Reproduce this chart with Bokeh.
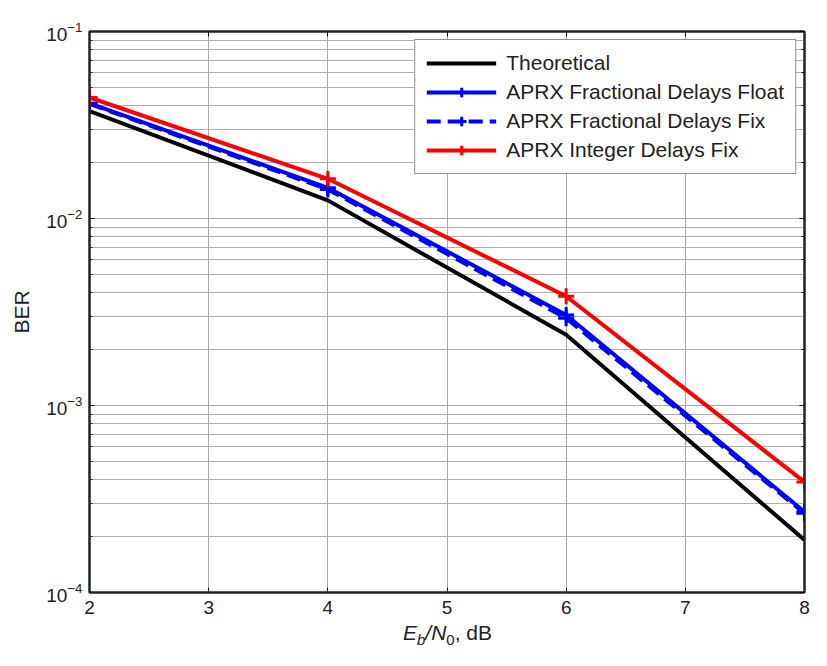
import numpy as np
from bokeh.plotting import figure
from bokeh.models import (LogAxis, LinearAxis, CustomJSTickFormatter,
                          Range1d, FixedTicker, Legend, Div)
from bokeh.layouts import column
from bokeh.embed import file_html
from bokeh.resources import INLINE

# ---- data ----
ebn0 = [2, 4, 6, 8]
ber_theoretical = [0.0375, 0.0125, 0.00239, 0.000191]
ber_frac_float = [0.0413, 0.0146, 0.00305, 0.000270]
ber_frac_fix = [0.0410, 0.0143, 0.00293, 0.000265]
ber_int_fix = [0.0444, 0.0163, 0.00384, 0.000390]
x_ticks = [2, 3, 4, 5, 6, 7, 8]

FONT = "Liberation Sans"
W = 811
DIV_H = 28
H = 650 - DIV_H
BL, BR, BT, BB = 89, 7, 31, 30

p = figure(width=W, height=H, y_axis_type="log",
           x_range=Range1d(2, 8), y_range=Range1d(1e-4, 1e-1),
           output_backend="svg", toolbar_location=None,
           min_border_left=BL, min_border_right=BR,
           min_border_top=BT, min_border_bottom=BB)
p.outline_line_color = "#222222"
p.outline_line_width = 2
p.background_fill_color = "white"
p.border_fill_color = "white"

# grids
p.xgrid.ticker = FixedTicker(ticks=x_ticks)
p.xgrid.grid_line_color = "#a8a8a8"
p.ygrid.grid_line_color = "#a8a8a8"
p.ygrid.minor_grid_line_color = "#b0b0b0"

# axes
for ax in (p.xaxis, p.yaxis):
    ax.axis_line_color = "#222222"
    ax.axis_line_width = 2
    ax.major_tick_in = 5
    ax.major_tick_out = 0
    ax.minor_tick_in = 3
    ax.minor_tick_out = 0
    ax.major_tick_line_color = "#222222"
    ax.minor_tick_line_color = "#222222"
    ax.major_label_text_font = FONT
    ax.major_label_text_font_size = "19px"
    ax.major_label_text_color = "#222222"
p.xaxis.ticker = FixedTicker(ticks=x_ticks)
p.xaxis.major_label_standoff = 8
p.yaxis.major_label_standoff = 7
p.yaxis.axis_label = "BER"
p.yaxis.axis_label_text_font = FONT
p.yaxis.axis_label_text_font_style = "normal"
p.yaxis.axis_label_text_font_size = "21px"
p.yaxis.axis_label_text_color = "#222222"
p.yaxis.axis_label_standoff = 10

blank = CustomJSTickFormatter(code="return ''")
ra = LogAxis(formatter=blank, major_tick_in=5, major_tick_out=0,
             minor_tick_in=3, minor_tick_out=0, axis_line_color="#222222",
             axis_line_width=2, major_label_text_font_size="1px",
             major_label_standoff=0)
p.add_layout(ra, "right")
ta = LinearAxis(formatter=blank, ticker=FixedTicker(ticks=x_ticks),
                major_tick_in=5, major_tick_out=0,
                minor_tick_in=0, minor_tick_out=0, axis_line_color="#222222",
                axis_line_width=2, major_label_text_font_size="1px",
                major_label_standoff=0)
p.add_layout(ta, "above")

# series
r1 = p.line(ebn0, ber_theoretical, line_color="black", line_width=4)
r2 = p.line(ebn0, ber_frac_float, line_color="#0000ff", line_width=4)
r2m = p.scatter(ebn0, ber_frac_float, marker="cross", size=16, line_color="#0000ff", line_width=3)
r3 = p.line(ebn0, ber_frac_fix, line_color="#0000ff", line_width=4, line_dash="14 7")
r3m = p.scatter(ebn0, ber_frac_fix, marker="cross", size=16, line_color="#0000ff", line_width=3)
r4 = p.line(ebn0, ber_int_fix, line_color="#ff0000", line_width=4)
r4m = p.scatter(ebn0, ber_int_fix, marker="cross", size=16, line_color="#ff0000", line_width=3)

legend = Legend(items=[
    ("Theoretical", [r1]),
    ("APRX Fractional Delays Float", [r2, r2m]),
    ("APRX Fractional Delays Fix", [r3, r3m]),
    ("APRX Integer Delays Fix", [r4, r4m]),
], location="top_right")
legend.margin = 8
legend.padding = 11
legend.spacing = 5
legend.glyph_width = 70
legend.glyph_height = 24
legend.label_height = 24
legend.label_standoff = 10
legend.label_text_font = FONT
legend.label_text_font_size = "21px"
legend.label_text_color = "#222222"
legend.border_line_color = "#222222"
legend.border_line_width = 1.5
legend.background_fill_alpha = 1
p.add_layout(legend)

# x axis label: E_b/N_0, dB (italic symbols with subscripts)
xlabel = Div(
    text=('<div style="padding-left:398px; margin-top:-6px; '
          "font-family:'Liberation Sans', Arial, sans-serif; font-size:21px; "
          'color:#222222; line-height:24px; white-space:nowrap;">'
          '<i>E<sub style="font-size:15px">b</sub>/N</i>'
          '<sub style="font-size:15px">0</sub>, dB</div>'),
    width=W, height=DIV_H)

open("out.html", "w").write(file_html(column(p, xlabel), INLINE))
